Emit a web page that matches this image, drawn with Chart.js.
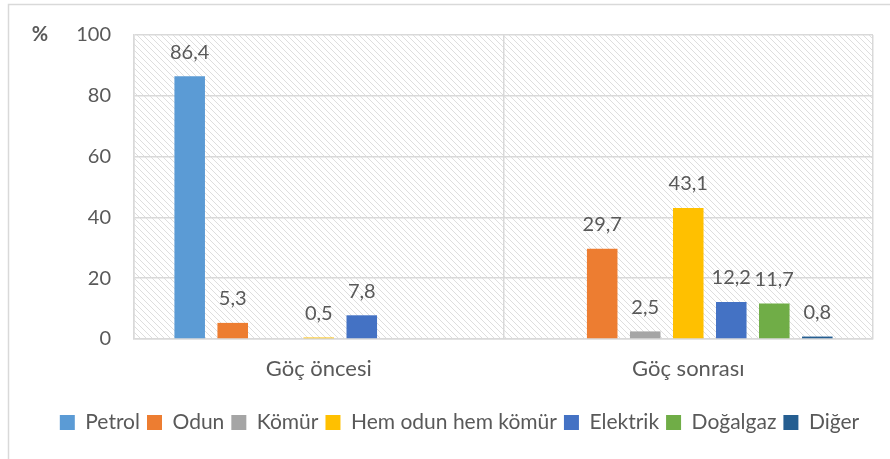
<!DOCTYPE html>
<html>
<head>
<meta charset="utf-8">
<script src="https://cdn.jsdelivr.net/npm/chart.js@4"></script>
<style>
  html, body { margin: 0; padding: 0; background: #fff; }
</style>
</head>
<body>
<canvas id="chart" width="890" height="459"></canvas>
<script>
//////////////////////////////////////////////////
// Data

const categories = ['Göç öncesi', 'Göç sonrası']
const seriesNames = ['Petrol', 'Odun', 'Kömür', 'Hem odun hem kömür', 'Elektrik', 'Doğalgaz', 'Diğer']
const petrol = [86.4, null]
const odun = [5.3, 29.7]
const komur = [null, 2.5]
const hemOdunHemKomur = [0.5, 43.1]
const elektrik = [7.8, 12.2]
const dogalgaz = [null, 11.7]
const diger = [null, 0.8]
const yTicks = [0, 20, 40, 60, 80, 100]

const seriesValues = [petrol, odun, komur, hemOdunHemKomur, elektrik, dogalgaz, diger]
const colors = ['#5B9BD5', '#ED7D31', '#A5A5A5', '#FFC000', '#4472C4', '#70AD47', '#255E91']

//////////////////////////////////////////////////
// Look

const FONT = 'Lato, "Liberation Sans", sans-serif'
const SIZE = 20
const TEXT = '#595959'
const GRID = '#d9d9d9'

Chart.defaults.font.family = FONT
Chart.defaults.font.size = SIZE
Chart.defaults.color = TEXT

// light diagonal hatch like the Excel plot area
const makeHatch = (ctx) => {
  const tile = document.createElement('canvas')
  tile.width = 6
  tile.height = 6
  const t = tile.getContext('2d')
  t.strokeStyle = '#dedede'
  t.lineWidth = 1
  t.beginPath()
  t.moveTo(-1, -1); t.lineTo(7, 7)
  t.moveTo(-1, 5); t.lineTo(1, 7)
  t.moveTo(5, -1); t.lineTo(7, 1)
  t.stroke()
  return ctx.createPattern(tile, 'repeat')
}

const decor = {
  id: 'decor',
  beforeDraw (chart) {
    const { ctx, chartArea: a } = chart
    ctx.save()
    // outer frame (only top and left are visible in the crop)
    ctx.strokeStyle = GRID
    ctx.lineWidth = 1.5
    ctx.beginPath()
    ctx.moveTo(8.5, chart.height)
    ctx.lineTo(8.5, 4.5)
    ctx.lineTo(chart.width, 4.5)
    ctx.stroke()
    // hatched plot background
    ctx.fillStyle = makeHatch(ctx)
    ctx.fillRect(a.left, a.top, a.right - a.left, a.bottom - a.top)
    // unit label
    ctx.fillStyle = TEXT
    ctx.font = 'bold ' + SIZE + 'px ' + FONT
    ctx.textAlign = 'center'
    ctx.textBaseline = 'middle'
    ctx.fillText('%', 40, a.top)
    ctx.restore()
  }
}

const valueLabels = {
  id: 'valueLabels',
  afterDatasetsDraw (chart) {
    const { ctx } = chart
    ctx.save()
    ctx.fillStyle = TEXT
    ctx.font = SIZE + 'px ' + FONT
    ctx.textAlign = 'center'
    ctx.textBaseline = 'middle'
    chart.data.datasets.forEach((ds, i) => {
      const meta = chart.getDatasetMeta(i)
      meta.data.forEach((bar, j) => {
        const v = ds.data[j]
        if (v === null) return
        ctx.fillText(String(v).replace('.', ','), bar.x, bar.y - 24)
      })
    })
    ctx.restore()
  }
}

//////////////////////////////////////////////////
// Chart

new Chart(document.getElementById('chart'), {
  type: 'bar',
  plugins: [decor, valueLabels],
  data: {
    labels: categories,
    datasets: seriesNames.map((name, i) => ({
      label: name,
      data: seriesValues[i],
      backgroundColor: colors[i],
      barPercentage: 0.71,
      categoryPercentage: 0.815
    }))
  },
  options: {
    responsive: false,
    animation: false,
    layout: {
      // left padding only recentres the legend; y axis width makes up the rest
      padding: { top: 34, right: 17, left: 46, bottom: 16 }
    },
    plugins: {
      tooltip: { enabled: false },
      legend: {
        position: 'bottom',
        labels: {
          boxWidth: 15,
          boxHeight: 15,
          padding: 7,
          color: TEXT,
          font: { size: 21 }
        }
      }
    },
    scales: {
      x: {
        grid: { color: GRID, lineWidth: 1.5, drawTicks: false, offset: true },
        border: { color: GRID, width: 1.5 },
        ticks: { padding: 17, color: TEXT, font: { size: 22 } },
        afterFit: (scale) => { scale.height = 66 }
      },
      y: {
        min: 0,
        max: 100,
        afterBuildTicks: (scale) => { scale.ticks = yTicks.map(v => ({ value: v })) },
        grid: { color: GRID, lineWidth: 1.5, drawTicks: false },
        border: { color: GRID, width: 1.5 },
        ticks: { padding: 23, color: TEXT },
        afterFit: (scale) => { scale.width = 88 }
      }
    }
  }
})
</script>
</body>
</html>
